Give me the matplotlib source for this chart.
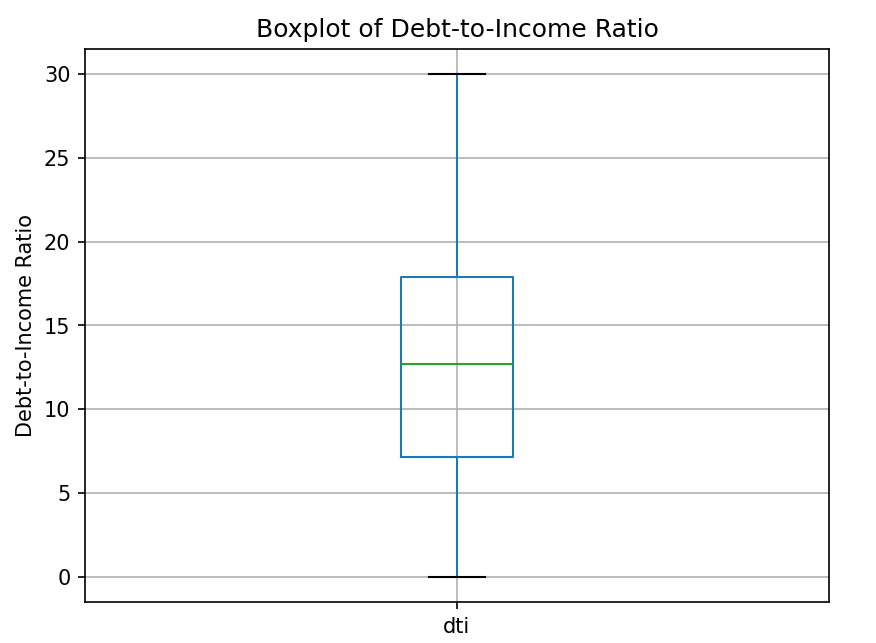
import matplotlib
matplotlib.use("Agg")
import matplotlib.pyplot as plt

# Box statistics
labels = ["dti"]
whisker_low = [0.0]
q1 = [7.14]
median = [12.68]
q3 = [17.92]
whisker_high = [29.99]

stats = []
for i, lab in enumerate(labels):
    stats.append({"label": lab, "whislo": whisker_low[i], "q1": q1[i],
                  "med": median[i], "q3": q3[i], "whishi": whisker_high[i],
                  "fliers": []})

dpi = 150
fig = plt.figure(figsize=(876 / dpi, 643 / dpi), dpi=dpi)
ax = fig.add_axes([85 / 876, 1 - 602 / 643, 744 / 876, 553 / 643])

ax.bxp(stats, widths=0.15,
       boxprops=dict(color="C0"), whiskerprops=dict(color="C0"),
       capprops=dict(color="black"), medianprops=dict(color="C2"))
ax.grid(True)
ax.set_xlim(0.5, 1.5)
ax.set_ylim(-1.5, 31.5)
ax.set_title("Boxplot of Debt-to-Income Ratio")
ax.set_ylabel("Debt-to-Income Ratio")

fig.savefig("out.png", dpi=dpi)
